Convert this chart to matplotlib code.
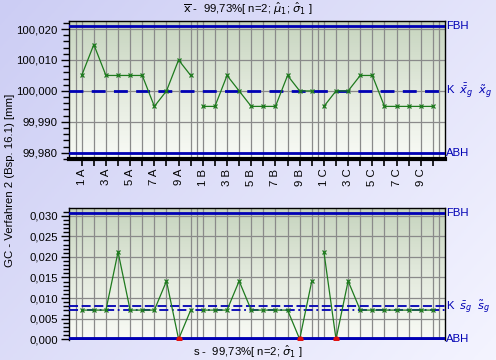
import numpy as np
import matplotlib.pyplot as plt
from matplotlib.colors import LinearSegmentedColormap
from matplotlib.patches import Rectangle
from matplotlib.ticker import FuncFormatter, MultipleLocator

plt.rcParams['font.family'] = ['Liberation Sans', 'DejaVu Sans']
plt.rcParams['mathtext.fontset'] = 'dejavusans'

# subgroup labels
groups = ['A', 'B', 'C']
sub_no = list(range(1, 11))

# x-bar chart values (mean of n=2)
xbar = [100.005, 100.015, 100.005, 100.005, 100.005, 100.005, 99.995, 100.000, 100.010, 100.005,
        99.995, 99.995, 100.005, 100.000, 99.995, 99.995, 99.995, 100.005, 100.000, 100.000,
        99.995, 100.000, 100.000, 100.005, 100.005, 99.995, 99.995, 99.995, 99.995, 99.995]
# s chart values
s_vals = [0.00707, 0.00707, 0.00707, 0.02121, 0.00707, 0.00707, 0.00707, 0.01414, 0.0, 0.00707,
          0.00707, 0.00707, 0.00707, 0.01414, 0.00707, 0.00707, 0.00707, 0.00707, 0.0, 0.01414,
          0.02121, 0.0, 0.01414, 0.00707, 0.00707, 0.00707, 0.00707, 0.00707, 0.00707, 0.00707]

x_fbh, x_abh, x_center = 100.0211, 99.9798, 100.000
s_fbh, s_abh, s_center1, s_center2 = 0.0307, 0.0, 0.0081, 0.0071

blue = '#0000b4'
green = '#1e7a1e'

fig = plt.figure(figsize=(4.96, 3.6), dpi=100)

# lavender figure background
bg = fig.add_axes([0, 0, 1, 1], zorder=-10)
gx, gy = np.meshgrid(np.linspace(0, 1, 300), np.linspace(0, 1, 300))
grad = 0.6 * gx + 0.4 * gy
bg.imshow(grad, extent=[0, 1, 0, 1], aspect='auto', origin='upper', interpolation='bilinear',
          cmap=LinearSegmentedColormap.from_list('lav', ['#cccdf4', '#f4f4ff']))
bg.axis('off')

W, H = 496, 360
def pos(x0, y0, x1, y1):
    return [x0 / W, 1 - y1 / H, (x1 - x0) / W, (y1 - y0) / H]

ax1 = fig.add_axes(pos(69, 21, 445, 159))
ax2 = fig.add_axes(pos(69, 208, 445, 340))

xs = np.arange(1, 31)
green_cmap = LinearSegmentedColormap.from_list('gr', ['#c6d4be', '#e2e9dc', '#f8faf5'])

def style(ax):
    nb = 80
    for i in range(nb):
        ax.add_patch(Rectangle((0, 1 - (i + 1) / nb), 1, 1 / nb + 0.002, transform=ax.transAxes,
                               color=green_cmap(i / (nb - 1)), lw=0, zorder=0))
    ax.set_xlim(-0.05, 31.0)
    for v in list(xs) + [0.5, 10.5, 20.5, 30.5]:
        ax.axvline(v, color='#8a8a8a', lw=0.9, zorder=1)
    for sp in ax.spines.values():
        sp.set_color('black')
        sp.set_linewidth(1.0)
    ax.tick_params(axis='y', which='major', length=6, width=1, labelsize=8.2, pad=2)
    ax.tick_params(axis='y', which='minor', length=4, width=1)

# ---- x-bar chart ----
style(ax1)
ax1.set_ylim(99.978, 100.0226)
ax1.yaxis.set_major_locator(MultipleLocator(0.010))
ax1.yaxis.set_minor_locator(MultipleLocator(0.002))
ax1.yaxis.set_major_formatter(FuncFormatter(lambda v, p: f'{v:.3f}'.replace('.', ',')))
for v in [99.98, 99.99, 100.0, 100.01, 100.02]:
    ax1.axhline(v, color='#8a8a8a', lw=0.9, zorder=1)
ax1.axhline(x_fbh, color=blue, lw=2, zorder=3)
ax1.axhline(x_abh, color=blue, lw=2, zorder=3)
ax1.axhline(x_center, color=blue, lw=2, ls=(0, (5, 3)), zorder=3)
for g in range(3):
    sl = slice(g * 10, g * 10 + 10)
    ax1.plot(xs[sl], xbar[sl], color=green, lw=0.9, marker='x', ms=3.5, mew=0.9, zorder=4)
ax1.set_xticks(xs)
ax1.set_xticklabels([f'{n} {g}' if n % 2 == 1 else '' for g in groups for n in sub_no],
                    rotation=90, fontsize=8.2)
ax1.tick_params(axis='x', length=5, width=1.2, pad=2)
ax1.spines['bottom'].set_linewidth(3)

# ---- s chart ----
style(ax2)
ax2.set_ylim(-0.0002, 0.0319)
ax2.yaxis.set_major_locator(MultipleLocator(0.005))
ax2.yaxis.set_minor_locator(MultipleLocator(0.001))
ax2.yaxis.set_major_formatter(FuncFormatter(lambda v, p: f'{v:.3f}'.replace('.', ',')))
for v in np.arange(0.005, 0.031, 0.005):
    ax2.axhline(v, color='#8a8a8a', lw=0.9, zorder=1)
ax2.axhline(s_fbh, color=blue, lw=2, zorder=3)
ax2.axhline(s_abh, color=blue, lw=3.5, zorder=3)
ax2.axhline(s_center1, color=blue, lw=1.3, ls=(0, (5, 2)), zorder=3)
ax2.axhline(s_center2, color=blue, lw=1.3, ls=(0, (5, 2, 1, 2)), zorder=3)
for g in range(3):
    sl = slice(g * 10, g * 10 + 10)
    ax2.plot(xs[sl], s_vals[sl], color=green, lw=0.9, marker='x', ms=3.5, mew=0.9, zorder=4)
zero = [x for x, v in zip(xs, s_vals) if v == 0]
ax2.plot(zero, [0] * len(zero), ls='none', marker='o', ms=3.5, color='#e01010', zorder=5)
ax2.set_xticks([])
ax2.spines['bottom'].set_visible(False)

# right side labels
tkw = dict(color=blue, fontsize=8.2, va='center', ha='left', clip_on=False)
ax1.text(1.003, x_fbh, 'FBH', transform=ax1.get_yaxis_transform(), **tkw)
ax1.text(1.003, x_abh, 'ABH', transform=ax1.get_yaxis_transform(), **tkw)
ax1.text(1.003, x_center, r'K  $\bar{\bar{x}}_g$  $\tilde{x}_g$', transform=ax1.get_yaxis_transform(), **tkw)
ax2.text(1.003, s_fbh, 'FBH', transform=ax2.get_yaxis_transform(), **tkw)
ax2.text(1.003, s_abh, 'ABH', transform=ax2.get_yaxis_transform(), **tkw)
ax2.text(1.003, 0.0078, r'K  $\bar{s}_g$  $\tilde{s}_g$', transform=ax2.get_yaxis_transform(), **tkw)

# titles and y label
fig.text(248 / W, 1 - 9 / H, r'$\overline{\mathrm{x}}$ -  99,73%[ n=2; $\hat{\mu}_1$; $\hat{\sigma}_1$ ]',
         ha='center', va='center', fontsize=8.2)
fig.text(248 / W, 1 - 352 / H, r's -  99,73%[ n=2; $\hat{\sigma}_1$ ]',
         ha='center', va='center', fontsize=8.2)
fig.text(10 / W, 1 - 180 / H, 'GC - Verfahren 2 (Bsp. 16.1) [mm]', rotation=90,
         ha='center', va='center', fontsize=8.2)

fig.savefig('out.png', dpi=100)
